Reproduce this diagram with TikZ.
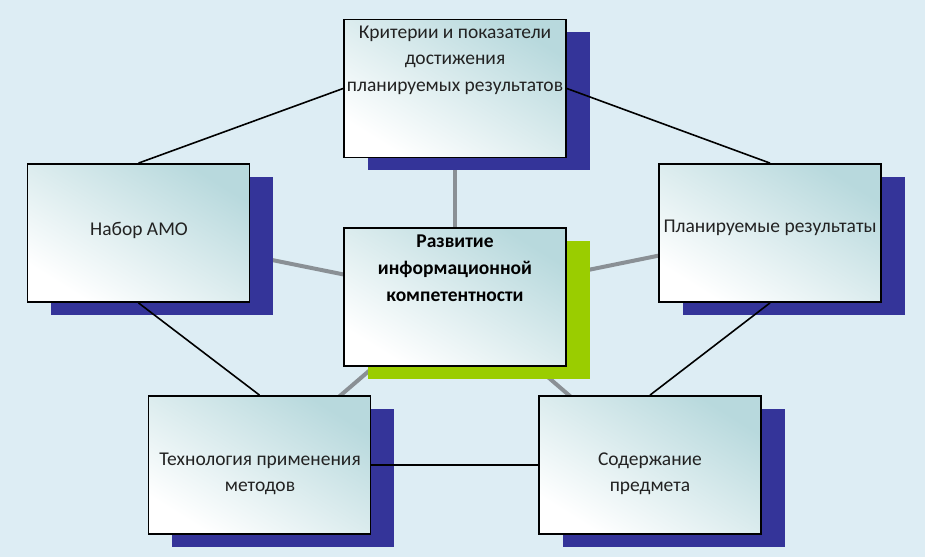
\documentclass[tikz,border=0pt]{standalone}
\usepackage{fontspec}
\setmainfont{Carlito}
\usetikzlibrary{shadows}
\definecolor{bgc}{HTML}{DDEDF4}
\definecolor{shblue}{HTML}{343499}
\definecolor{shgreen}{HTML}{9ACD00}
\definecolor{greyln}{HTML}{8A9095}
\definecolor{boxteal}{HTML}{B8D9DD}
\definecolor{txt}{HTML}{222222}
\pgfdeclarelayer{back}
\pgfdeclarelayer{links}
\pgfsetlayers{back,links,main}
\tikzset{
  box/.style={draw=black, line width=1.8pt, minimum width=222pt, minimum height=138pt,
    inner sep=0pt, top color=boxteal, bottom color=white,
    shading angle=-32,
    general shadow={fill=#1, shadow xshift=23.5pt, shadow yshift=-12.5pt}},
  box/.default=shblue,
  greyline/.style={draw=greyln, line width=4pt},
  blackline/.style={draw=black, line width=1.6pt},
  label/.style={font=\fontsize{19.5}{26.5}\selectfont, text=txt, align=center, inner sep=0pt},
  blabel/.style={label, font=\fontsize{19.5}{27}\selectfont\bfseries, text=black}
}
\begin{document}
\begin{tikzpicture}[x=1pt,y=-1pt]
\useasboundingbox (0,0) rectangle (925,557);
\begin{pgfonlayer}{back}
  \fill[bgc] (0,0) rectangle (925,557);
\end{pgfonlayer}

\node[box] (top) at (455,88.5) {};
\node[box=shgreen] (mid) at (455,297) {};
\node[box] (left) at (138.5,233) {};
\node[box] (right) at (770,233) {};
\node[box] (bl) at (259.5,465) {};
\node[box] (br) at (650,465) {};

\begin{pgfonlayer}{links}
  \draw[greyline] (mid.center) -- (top.center);
  \draw[greyline] (mid.center) -- (left.center);
  \draw[greyline] (mid.center) -- (right.center);
  \draw[greyline] (mid.center) -- (bl.center);
  \draw[greyline] (mid.center) -- (br.center);
\end{pgfonlayer}

\draw[blackline] (top.west) -- (left.north);
\draw[blackline] (top.east) -- (right.north);
\draw[blackline] (left.south) -- (bl.north);
\draw[blackline] (right.south) -- (br.north);
\draw[blackline] (bl.east) -- (br.west);

\node[label] (ttop) at (455,60) {Критерии и показатели\\достижения\\планируемых результатов};
\node[blabel] (tmid) at (455,268) {Развитие\\информационной\\компетентности};
\node[label] (tleft) at (139,230) {Набор АМО};
\node[label] (tright) at (770,228) {Планируемые результаты};
\node[label] (tbl) at (260,474) {Технология применения\\методов};
\node[label] (tbr) at (650,474) {Содержание\\предмета};
\end{tikzpicture}
\end{document}
